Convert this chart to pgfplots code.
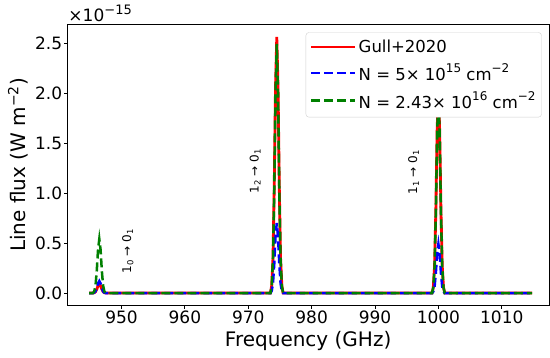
\documentclass[border=0pt]{standalone}
\usepackage{fontspec}
\setmainfont{DejaVu Sans}
\usepackage{pgfplots}
\pgfplotsset{compat=1.18}
\definecolor{mplred}{RGB}{255,0,0}
\definecolor{mplblue}{RGB}{0,0,255}
\definecolor{mplgreen}{RGB}{0,128,0}
\newcommand{\sups}[1]{\raisebox{0.45em}{\fontsize{12bp}{14bp}\selectfont #1}}
\begin{document}
\begin{tikzpicture}
\path[use as bounding box] (-67.3bp,-52.2bp) rectangle (482.7bp,305.8bp);
\begin{axis}[
  scale only axis, width=481.7bp, height=281.8bp,
  clip=false,
  xmin=941.45, xmax=1017.45, ymin=-0.128, ymax=2.69,
  xtick={950,960,970,980,990,1000,1010},
  ytick={0,0.5,1,1.5,2,2.5},
  yticklabels={0.0,0.5,1.0,1.5,2.0,2.5},
  scaled y ticks=false,
  /pgf/number format/assume math mode=true,
  /pgf/number format/1000 sep={},
  tick align=outside, major tick length=3bp,
  xtick pos=lower, ytick pos=left,
  axis line style={line width=0.9bp},
  every tick/.style={line width=0.9bp, black},
  tick label style={font=\fontsize{17bp}{20bp}\selectfont},
  xticklabel style={inner sep=1bp, yshift=-1bp},
  yticklabel style={inner sep=1bp, xshift=-1bp},
  xlabel={Frequency (GHz)},
  ylabel={Line flux (W m\textsuperscript{−2})},
  xlabel style={font=\fontsize{20bp}{24bp}\selectfont, at={(axis description cs:0.5,-0.1451)}, anchor=base, inner sep=0pt},
  ylabel style={font=\fontsize{20bp}{24bp}\selectfont, at={(axis description cs:-0.1017,0.5)}, anchor=center, rotate=0, inner sep=0pt},
  legend style={at={(rel axis cs:0.9849,0.9705)}, anchor=north east, draw=black!18, rounded corners=3bp, fill=white, font=\fontsize{16.5bp}{19bp}\selectfont, inner xsep=4bp, inner ysep=5.5bp, row sep=6bp},
  legend cell align=left,
  legend image code/.code={\draw[#1] (0bp,0bp) -- (36bp,0bp); \path (0bp,0bp) -- (44bp,0bp);},
]
\addplot[mplred, line width=2.8bp] coordinates {
(944.9,0) (945.5,0) (945.7,0.0026) (945.9,0.012) (946.1,0.037) (946.3,0.072) (946.5,0.09) (946.7,0.072) (946.9,0.037) (947.1,0.012) (947.3,0.0026) (947.5,0)
(973.5,0) (973.7,0.073) (973.9,0.346) (974.1,1.052) (974.3,2.051) (974.5,2.56) (974.7,2.051) (974.9,1.052) (975.1,0.346) (975.3,0.073) (975.5,0)
(999.0,0) (999.2,0.058) (999.4,0.274) (999.6,0.834) (999.8,1.626) (1000.0,2.03) (1000.2,1.626) (1000.4,0.834) (1000.6,0.274) (1000.8,0.058) (1001.0,0) (1014.8,0)
};
\addlegendentry{Gull+2020}
\addplot[mplblue, line width=2.5bp, dash pattern=on 9bp off 4bp] coordinates {
(944.9,0) (945.5,0) (945.7,0.0034) (945.9,0.016) (946.1,0.049) (946.3,0.096) (946.5,0.12) (946.7,0.096) (946.9,0.049) (947.1,0.016) (947.3,0.0034) (947.5,0)
(973.5,0) (973.7,0.020) (973.9,0.095) (974.1,0.288) (974.3,0.561) (974.5,0.70) (974.7,0.561) (974.9,0.288) (975.1,0.095) (975.3,0.020) (975.5,0)
(999.0,0) (999.2,0.014) (999.4,0.066) (999.6,0.201) (999.8,0.392) (1000.0,0.49) (1000.2,0.392) (1000.4,0.201) (1000.6,0.066) (1000.8,0.014) (1001.0,0) (1014.8,0)
};
\addlegendentry{N = 5× 10\sups{15} cm\sups{−2}}
\addplot[mplgreen, line width=2.5bp, dash pattern=on 9bp off 4bp] coordinates {
(944.9,0) (945.5,0) (945.7,0.0154) (945.9,0.073) (946.1,0.222) (946.3,0.433) (946.5,0.54) (946.7,0.433) (946.9,0.222) (947.1,0.073) (947.3,0.0154) (947.5,0)
(973.5,0) (973.7,0.071) (973.9,0.336) (974.1,1.023) (974.3,1.994) (974.5,2.49) (974.7,1.994) (974.9,1.023) (975.1,0.336) (975.3,0.071) (975.5,0)
(999.0,0) (999.2,0.057) (999.4,0.267) (999.6,0.814) (999.8,1.586) (1000.0,1.98) (1000.2,1.586) (1000.4,0.814) (1000.6,0.267) (1000.8,0.057) (1001.0,0) (1014.8,0)
};
\addlegendentry{N = 2.43× 10\sups{16} cm\sups{−2}}
\node[rotate=90, font=\fontsize{12bp}{14bp}\selectfont] at (axis cs:951.0,0.42) {1\textsubscript{0} → 0\textsubscript{1}};
\node[rotate=90, font=\fontsize{12bp}{14bp}\selectfont] at (axis cs:971.1,1.22) {1\textsubscript{2} → 0\textsubscript{1}};
\node[rotate=90, font=\fontsize{12bp}{14bp}\selectfont] at (axis cs:996.1,1.21) {1\textsubscript{1} → 0\textsubscript{1}};
\node[anchor=base west, inner sep=0pt, font=\fontsize{17bp}{20bp}\selectfont] at (rel axis cs:0,1) [xshift=1bp, yshift=2.3bp] {×10\raisebox{0.45em}{\fontsize{13bp}{15bp}\selectfont −15}};
\end{axis}
\end{tikzpicture}
\end{document}
